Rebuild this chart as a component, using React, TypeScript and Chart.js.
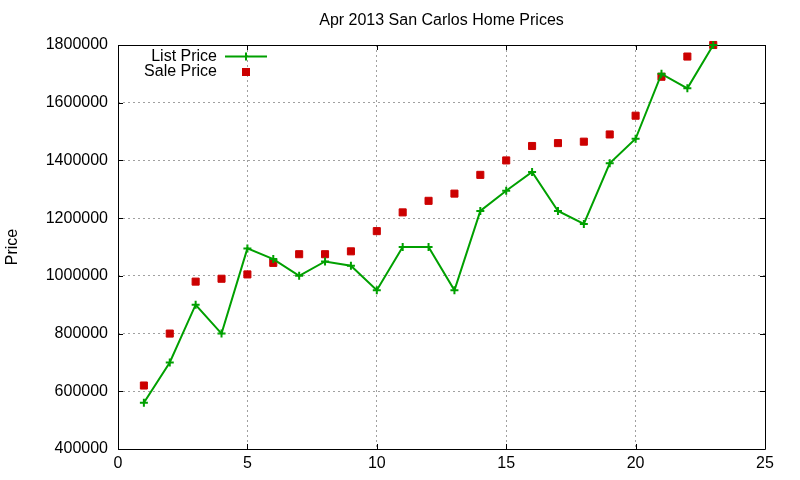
import { useEffect, useRef } from 'react';
import { Chart, registerables } from 'chart.js';

Chart.register(...registerables);

// Data
const points = [1, 2, 3, 4, 5, 6, 7, 8, 9, 10, 11, 12, 13, 14, 15, 16, 17, 18, 19, 20, 21, 22, 23];
const listPrice = [
  560000, 700000, 900000, 800000, 1095000, 1058000, 1000000, 1050000, 1035000, 950000, 1100000, 1100000,
  950000, 1225000, 1295000, 1360000, 1225000, 1180000, 1390000, 1475000, 1700000, 1650000, 1800000,
];
const salePrice = [
  620000, 800000, 980000, 990000, 1005000, 1045000, 1075000, 1075000, 1085000, 1155000, 1220000, 1260000,
  1285000, 1350000, 1400000, 1450000, 1460000, 1465000, 1490000, 1555000, 1690000, 1760000, 1800000,
];
const xTicks = [0, 5, 10, 15, 20, 25];
const yTicks = [400000, 600000, 800000, 1000000, 1200000, 1400000, 1600000, 1800000];

const TITLE = 'Apr 2013 San Carlos Home Prices';
const GREEN = '#00a000';
const RED = '#cc0000';
const FONT = '"Liberation Sans", Arial, sans-serif';
const FONT_SIZE = 16;

// gnuplot-ish frame: full border box with inward ticks on all four sides
const framePlugin = {
  id: 'frame',
  beforeDatasetsDraw(chart: any) {
    const { ctx, chartArea: a, scales } = chart;
    ctx.save();
    ctx.strokeStyle = '#000';
    ctx.lineWidth = 1;
    ctx.beginPath();
    ctx.rect(Math.round(a.left) + 0.5, Math.round(a.top) + 0.5, Math.round(a.right - a.left), Math.round(a.bottom - a.top));
    ctx.stroke();
    const tl = 5;
    ctx.beginPath();
    for (const v of xTicks) {
      const x = Math.round(scales.x.getPixelForValue(v)) + 0.5;
      ctx.moveTo(x, a.bottom);
      ctx.lineTo(x, a.bottom - tl);
      ctx.moveTo(x, a.top);
      ctx.lineTo(x, a.top + tl);
    }
    for (const v of yTicks) {
      const y = Math.round(scales.y.getPixelForValue(v)) + 0.5;
      ctx.moveTo(a.left, y);
      ctx.lineTo(a.left + tl, y);
      ctx.moveTo(a.right, y);
      ctx.lineTo(a.right - tl, y);
    }
    ctx.stroke();
    ctx.restore();
  },
  afterDraw(chart: any) {
    const { ctx, chartArea: a } = chart;
    ctx.save();
    ctx.font = `${FONT_SIZE}px ${FONT}`;
    ctx.fillStyle = '#000';
    ctx.textBaseline = 'middle';

    // title
    ctx.textAlign = 'center';
    ctx.fillText(TITLE, (a.left + a.right) / 2, 21);

    // legend, text right-aligned with key on the right
    ctx.textAlign = 'right';
    ctx.fillText('List Price', 217, 56.5);
    ctx.fillText('Sale Price', 217, 72);

    ctx.strokeStyle = GREEN;
    ctx.lineWidth = 2;
    ctx.beginPath();
    ctx.moveTo(225, 56.5);
    ctx.lineTo(267, 56.5);
    ctx.moveTo(246, 52.5);
    ctx.lineTo(246, 60.5);
    ctx.stroke();

    ctx.fillStyle = RED;
    ctx.fillRect(242, 68, 8, 8);
    ctx.restore();
  },
};

export default function App() {
  const canvasRef = useRef<HTMLCanvasElement>(null);

  useEffect(() => {
    if (!canvasRef.current) return;

    const chart = new Chart(canvasRef.current, {
      type: 'scatter',
      data: {
        datasets: [
          {
            label: 'List Price',
            data: points.map((x, i) => ({ x, y: listPrice[i] })),
            showLine: true,
            borderColor: GREEN,
            backgroundColor: GREEN,
            borderWidth: 2,
            pointStyle: 'cross',
            pointRadius: 4,
            pointBorderWidth: 2,
            pointBorderColor: GREEN,
            clip: false,
            order: 1,
          },
          {
            label: 'Sale Price',
            data: points.map((x, i) => ({ x, y: salePrice[i] })),
            showLine: false,
            borderColor: RED,
            backgroundColor: RED,
            pointStyle: 'rect',
            pointRadius: 5,
            pointBorderWidth: 1,
            pointBorderColor: RED,
            clip: false,
            order: 2,
          },
        ],
      },
      options: {
        responsive: false,
        animation: false,
        devicePixelRatio: 1,
        font: { family: FONT, size: FONT_SIZE },
        color: '#000',
        layout: { padding: { top: 45, right: 35, left: 0, bottom: 0 } },
        plugins: {
          legend: { display: false },
          title: { display: false },
          tooltip: { enabled: false },
        },
        scales: {
          x: {
            type: 'linear',
            min: 0,
            max: 25,
            afterBuildTicks: (scale: any) => {
              scale.ticks = xTicks.map((value) => ({ value }));
            },
            afterFit: (scale: any) => {
              scale.height = 31;
            },
            ticks: {
              color: '#000',
              padding: 5,
              maxRotation: 0,
              autoSkip: false,
              font: { family: FONT, size: FONT_SIZE },
              callback: (v: any) => String(v),
            },
            grid: {
              drawTicks: false,
              color: (c: any) => (c.tick && (c.tick.value === 0 || c.tick.value === 25) ? 'rgba(0,0,0,0)' : '#a0a0a0'),
              lineWidth: 1,
            },
            border: { display: false, dash: [2, 3] },
          },
          y: {
            type: 'linear',
            min: 400000,
            max: 1800000,
            afterBuildTicks: (scale: any) => {
              scale.ticks = yTicks.map((value) => ({ value }));
            },
            afterFit: (scale: any) => {
              scale.width = 118;
            },
            title: {
              display: true,
              text: 'Price',
              color: '#000',
              font: { family: FONT, size: FONT_SIZE },
              padding: { top: 3, bottom: 0 },
            },
            ticks: {
              color: '#000',
              padding: 10,
              autoSkip: false,
              font: { family: FONT, size: FONT_SIZE },
              callback: (v: any) => String(v),
            },
            grid: {
              drawTicks: false,
              color: (c: any) =>
                c.tick && (c.tick.value === 400000 || c.tick.value === 1800000) ? 'rgba(0,0,0,0)' : '#a0a0a0',
              lineWidth: 1,
            },
            border: { display: false, dash: [2, 3] },
          },
        },
      },
      plugins: [framePlugin],
    });

    return () => {
      chart.destroy();
    };
  }, []);

  return (
    <div style={{ position: 'absolute', left: 0, top: 0, width: 800, height: 480, background: '#fff' }}>
      <canvas ref={canvasRef} width={800} height={480}></canvas>
    </div>
  );
}
